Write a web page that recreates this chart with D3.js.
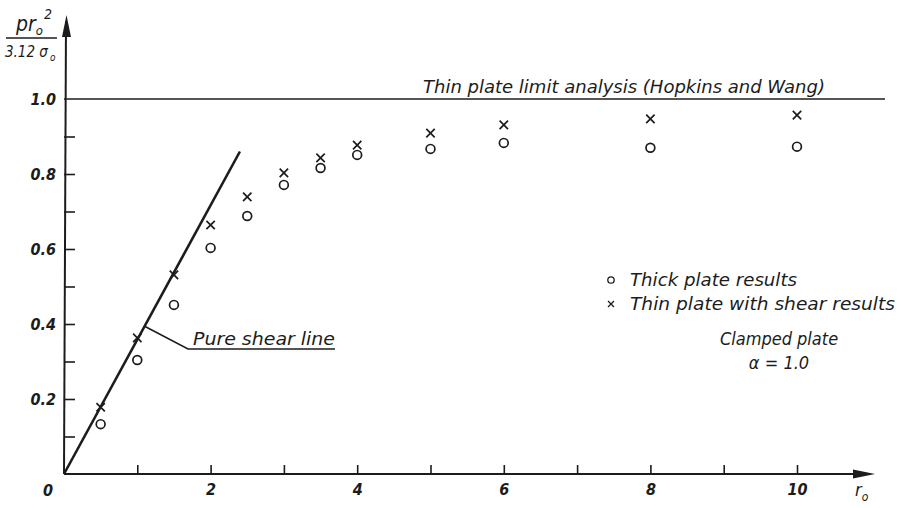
<!DOCTYPE html>
<html>
<head>
<meta charset="utf-8">
<script src="https://cdn.jsdelivr.net/npm/d3@7"></script>
<style>
  html, body { margin: 0; padding: 0; background: #ffffff; }
  svg { display: block; }
  text { font-family: "Liberation Sans Narrow", "DejaVu Sans Condensed", "Liberation Sans", sans-serif; font-style: italic; fill: #1c1c1c; }
</style>
</head>
<body>
<svg id="chart" width="901" height="508"></svg>
<script>
// ---- data ----
const rValues   = [0.5, 1, 1.5, 2, 2.5, 3, 3.5, 4, 5, 6, 8, 10];
const thickPlate = [0.133, 0.304, 0.451, 0.603, 0.688, 0.771, 0.816, 0.851, 0.867, 0.883, 0.870, 0.873];
const thinShear  = [0.178, 0.363, 0.531, 0.664, 0.739, 0.803, 0.843, 0.877, 0.909, 0.931, 0.947, 0.957];
const shearLineR = [0, 2.4];
const shearLineV = [0, 0.86];
const limitValue = 1.0;
const xTickValues = [1, 2, 3, 4, 5, 6, 7, 8, 9, 10];
const xTickLabels = ["", "2", "", "4", "", "6", "", "8", "", "10"];
const yTickValues = [0.1, 0.2, 0.3, 0.4, 0.5, 0.6, 0.7, 0.8, 0.9, 1.0];
const yTickLabels = ["", "0.2", "", "0.4", "", "0.6", "", "0.8", "", "1.0"];
const legendLabels = ["Thick plate results", "Thin plate with shear results"];

// ---- scales ----
const ink = "#1c1c1c";
const x = d3.scaleLinear().domain([0, 10]).range([64, 797]);
const y = d3.scaleLinear().domain([0, 1]).range([474, 99]);
const svg = d3.select("#chart");

// axes lines with arrows
const xEnd = x.invert(875), yEnd = y.invert(15);
svg.append("line").attr("x1", x(0)).attr("y1", y(0)).attr("x2", x(xEnd) - 6).attr("y2", y(0))
  .attr("stroke", ink).attr("stroke-width", 2);
svg.append("line").attr("x1", x(0)).attr("y1", y(0)).attr("x2", x(0) + 2).attr("y2", y(yEnd) + 6)
  .attr("stroke", ink).attr("stroke-width", 2);
svg.append("path")
  .attr("d", `M${x(xEnd)},${y(0)} L${x(xEnd) - 22},${y(0) - 4.5} L${x(xEnd) - 22},${y(0) + 4.5} Z`)
  .attr("fill", ink);
svg.append("path")
  .attr("d", `M${x(0) + 2.5},${y(yEnd)} L${x(0) - 2},${y(yEnd) + 22} L${x(0) + 7},${y(yEnd) + 22} Z`)
  .attr("fill", ink);

// x axis ticks
const xAxis = d3.axisBottom(x).tickValues(xTickValues)
  .tickFormat((d, i) => xTickLabels[i]).tickSizeInner(-9).tickSizeOuter(0).tickPadding(10);
const gx = svg.append("g").attr("transform", `translate(0,${y(0)})`).call(xAxis);
gx.select(".domain").remove();
gx.selectAll(".tick line").attr("stroke", ink).attr("stroke-width", 1.6);
gx.selectAll(".tick text").attr("font-size", 16).attr("fill", ink)
  .style("font-family", "'Liberation Sans Narrow','DejaVu Sans Condensed',sans-serif").style("font-style", "italic").style("font-weight", "bold");

// y axis ticks
const yAxis = d3.axisLeft(y).tickValues(yTickValues)
  .tickFormat((d, i) => yTickLabels[i]).tickSizeInner(-11).tickSizeOuter(0).tickPadding(8);
const gy = svg.append("g").attr("transform", `translate(${x(0)},0)`).call(yAxis);
gy.select(".domain").remove();
gy.selectAll(".tick line").attr("stroke", ink).attr("stroke-width", 1.6)
  .attr("opacity", d => d === limitValue ? 0 : 1);
gy.selectAll(".tick text").attr("font-size", 16).attr("fill", ink)
  .style("font-family", "'Liberation Sans Narrow','DejaVu Sans Condensed',sans-serif").style("font-style", "italic").style("font-weight", "bold");

// origin label
svg.append("text").attr("x", 48).attr("y", 496).attr("text-anchor", "middle")
  .attr("font-size", 16).style("font-weight", "bold").text("0");

// x axis title r0
const rt = svg.append("text").attr("x", 855).attr("y", 496).attr("font-size", 18);
rt.append("tspan").text("r");
rt.append("tspan").attr("font-size", 12).attr("dy", 5).text("o");

// y axis title fraction
const yt = svg.append("text").attr("x", 16).attr("y", 31).attr("font-size", 21);
yt.append("tspan").text("pr");
yt.append("tspan").attr("font-size", 13).attr("dy", 4).text("o");
svg.append("text").attr("x", 44).attr("y", 19).attr("font-size", 14).text("2");
svg.append("line").attr("x1", 6).attr("x2", 57).attr("y1", 38).attr("y2", 38)
  .attr("stroke", ink).attr("stroke-width", 1.6);
svg.append("text").attr("x", 5).attr("y", 57).attr("font-size", 15).text("3.12 σ");
svg.append("text").attr("x", 50).attr("y", 61).attr("font-size", 10).text("o");

// limit line
svg.append("line").attr("x1", x(0)).attr("x2", x(x.invert(885))).attr("y1", y(limitValue)).attr("y2", y(limitValue))
  .attr("stroke", ink).attr("stroke-width", 1.6);
svg.append("text").attr("x", 423).attr("y", 93).attr("font-size", 18)
  .attr("textLength", 402).attr("lengthAdjust", "spacingAndGlyphs")
  .text("Thin plate limit analysis (Hopkins and Wang)");

// pure shear line
svg.append("line").attr("x1", x(shearLineR[0])).attr("y1", y(shearLineV[0]))
  .attr("x2", x(shearLineR[1])).attr("y2", y(shearLineV[1]))
  .attr("stroke", ink).attr("stroke-width", 2.6);
const lr = 1.1, lv = lr * shearLineV[1] / shearLineR[1];
svg.append("path")
  .attr("d", `M${x(lr)},${y(lv)} L188,349 L335,349`)
  .attr("fill", "none").attr("stroke", ink).attr("stroke-width", 1.6);
svg.append("text").attr("x", 193).attr("y", 345).attr("font-size", 18)
  .attr("textLength", 142).attr("lengthAdjust", "spacingAndGlyphs")
  .text("Pure shear line");

// markers
const crossPath = s => `M${-s},${-s} L${s},${s} M${-s},${s} L${s},${-s}`;
svg.append("g").selectAll("circle").data(rValues.map((r, i) => [r, thickPlate[i]])).join("circle")
  .attr("cx", d => x(d[0])).attr("cy", d => y(d[1])).attr("r", 4.4)
  .attr("fill", "none").attr("stroke", ink).attr("stroke-width", 1.7);
svg.append("g").selectAll("path").data(rValues.map((r, i) => [r, thinShear[i]])).join("path")
  .attr("transform", d => `translate(${x(d[0])},${y(d[1])})`)
  .attr("d", crossPath(4.2)).attr("fill", "none").attr("stroke", ink).attr("stroke-width", 1.7);

// legend
svg.append("circle").attr("cx", 611).attr("cy", 280).attr("r", 3.2)
  .attr("fill", "none").attr("stroke", ink).attr("stroke-width", 1.3);
svg.append("path").attr("transform", "translate(611,304)").attr("d", crossPath(3))
  .attr("fill", "none").attr("stroke", ink).attr("stroke-width", 1.3);
svg.append("text").attr("x", 630).attr("y", 286).attr("font-size", 18)
  .attr("textLength", 167).attr("lengthAdjust", "spacingAndGlyphs").text(legendLabels[0]);
svg.append("text").attr("x", 630).attr("y", 310).attr("font-size", 18)
  .attr("textLength", 265).attr("lengthAdjust", "spacingAndGlyphs").text(legendLabels[1]);

// note
svg.append("text").attr("x", 779).attr("y", 345).attr("font-size", 18).attr("text-anchor", "middle")
  .text("Clamped plate");
svg.append("text").attr("x", 779).attr("y", 369).attr("font-size", 18).attr("text-anchor", "middle")
  .text("α = 1.0");
</script>
</body>
</html>
